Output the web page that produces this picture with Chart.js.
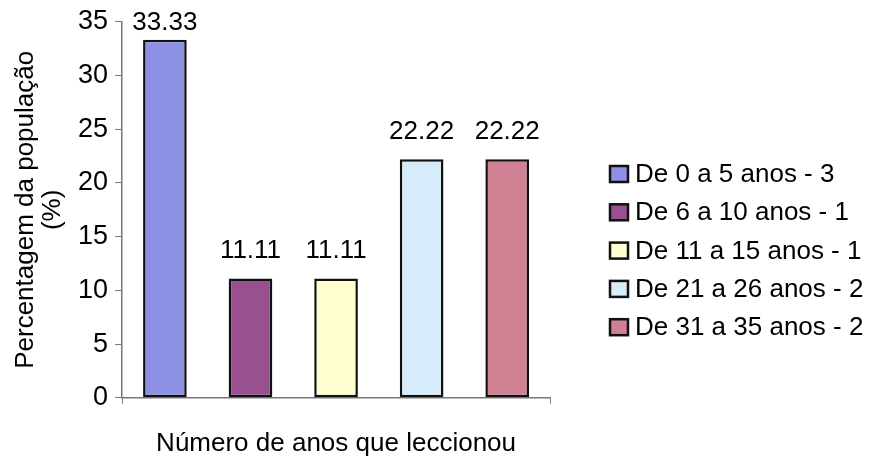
<!DOCTYPE html>
<html>
<head>
    <title>Anos de leccionação</title>
    <script src="https://cdn.jsdelivr.net/npm/chart.js"></script>
    <style>
        body { margin: 0; background: #fff; }
        #wrap { width: 871px; height: 470px; }
    </style>
</head>
<body>
    <div id="wrap"><canvas id="anosChart" width="871" height="470"></canvas></div>
<script>
// groups of years taught, count of teachers and % of the population
const grupos = ['De 0 a 5 anos', 'De 6 a 10 anos', 'De 11 a 15 anos', 'De 21 a 26 anos', 'De 31 a 35 anos'];
const contagens = [3, 1, 1, 2, 2];
const percentagens = [33.33, 11.11, 11.11, 22.22, 22.22];
const cores = ['#8c91e4', '#985090', '#ffffcf', '#d7ecfa', '#cf8092'];
const yTicks = [0, 5, 10, 15, 20, 25, 30, 35];

const familia = "'Liberation Sans', Arial, sans-serif";
const fonte = { family: familia, size: 26 };

// one category, one dataset per group (so each gets its own legend entry)
const datasets = grupos.map((g, i) => ({
    label: g + ' - ' + contagens[i],
    data: [percentagens[i]],
    backgroundColor: cores[i],
    borderColor: '#111',
    borderWidth: 2.5,
    borderSkipped: false,
    categoryPercentage: 1.0,
    barPercentage: 0.51
}));

// values written above the bars
const rotulos = {
    id: 'rotulos',
    afterDatasetsDraw(chart) {
        const ctx = chart.ctx;
        ctx.save();
        ctx.font = '26px ' + familia;
        ctx.fillStyle = '#000';
        ctx.textAlign = 'center';
        ctx.textBaseline = 'alphabetic';
        chart.data.datasets.forEach((ds, i) => {
            const bar = chart.getDatasetMeta(i).data[0];
            const y = Math.max(bar.y - 20, 30);
            ctx.fillText(ds.data[0].toFixed(2), bar.x, y);
        });
        ctx.restore();
    }
};

// legend on the right, boxes with black outline
const legenda = {
    id: 'legenda',
    afterDraw(chart) {
        const ctx = chart.ctx;
        const x0 = 610, y0 = 174, passo = 38.3;
        ctx.save();
        ctx.font = '26px ' + familia;
        ctx.textBaseline = 'middle';
        chart.data.datasets.forEach((ds, i) => {
            const y = y0 + i * passo;
            ctx.fillStyle = ds.backgroundColor;
            ctx.fillRect(x0, y - 8, 18, 16);
            ctx.strokeStyle = '#111';
            ctx.lineWidth = 2.5;
            ctx.strokeRect(x0, y - 8, 18, 16);
            ctx.fillStyle = '#000';
            ctx.fillText(ds.label, x0 + 25, y + 1);
        });
        ctx.restore();
    }
};

new Chart(document.getElementById('anosChart'), {
    type: 'bar',
    data: { labels: [''], datasets: datasets },
    options: {
        responsive: false,
        animation: false,
        layout: { padding: { left: 0, right: 321, top: 11, bottom: 0 } },
        plugins: {
            legend: { display: false },
            tooltip: { enabled: false }
        },
        scales: {
            x: {
                grid: { display: true, drawOnChartArea: false, drawTicks: true, tickLength: 6, color: '#777', offset: true },
                border: { display: true, color: '#777', width: 1.5 },
                ticks: { display: false },
                title: {
                    display: true,
                    text: 'Número de anos que leccionou',
                    color: '#000',
                    font: fonte,
                    padding: { top: 24, bottom: 11 }
                }
            },
            y: {
                min: 0,
                max: 35,
                afterBuildTicks(axis) { axis.ticks = yTicks.map(v => ({ value: v })); },
                grid: { display: true, drawOnChartArea: false, drawTicks: true, tickLength: 7, color: '#777' },
                border: { display: true, color: '#777', width: 1.5 },
                ticks: { color: '#000', font: { family: familia, size: 27, lineHeight: 1.1 }, padding: 7 },
                title: {
                    display: true,
                    text: ['Percentagem da população', '(%)'],
                    color: '#000',
                    font: { family: familia, size: 26, lineHeight: 1.04 },
                    padding: { top: 12, bottom: 5 }
                }
            }
        }
    },
    plugins: [rotulos, legenda]
});
</script>
</body>
</html>
